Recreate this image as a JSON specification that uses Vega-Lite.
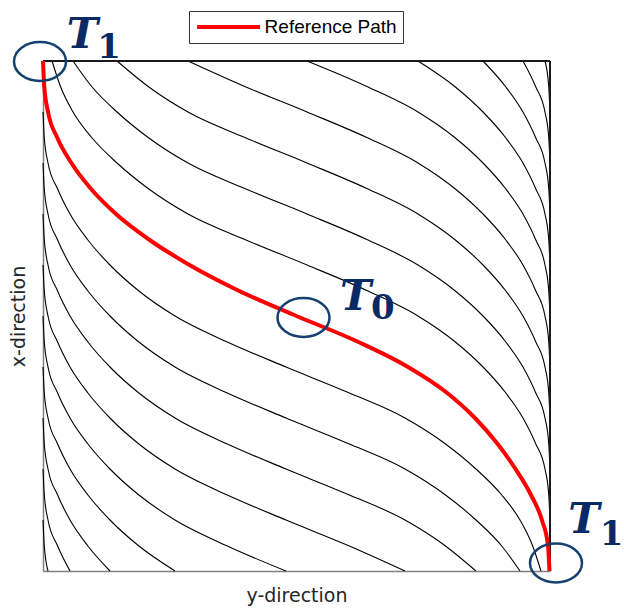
{
  "$schema": "https://vega.github.io/schema/vega-lite/v6.json",
  "width": 507,
  "height": 510,
  "autosize": {"type": "none"},
  "padding": {"left": 43, "top": 61, "right": 74, "bottom": 37},
  "background": "white",
  "config": {"view": {"stroke": null}},
  "datasets": {
    "passes": [
      {"curve": "above1", "u": 1.78, "v": 100}, {"curve": "above1", "u": 3.45, "v": 95}, {"curve": "above1", "u": 5.92, "v": 90}, {"curve": "above1", "u": 9.6, "v": 85}, {"curve": "above1", "u": 14.6, "v": 80}, {"curve": "above1", "u": 20.74, "v": 75}, {"curve": "above1", "u": 28.6, "v": 70}, {"curve": "above1", "u": 39.8, "v": 65}, {"curve": "above1", "u": 52.07, "v": 60}, {"curve": "above1", "u": 63.87, "v": 55}, {"curve": "above1", "u": 73.96, "v": 50}, {"curve": "above1", "u": 81.21, "v": 45}, {"curve": "above1", "u": 86.79, "v": 40}, {"curve": "above1", "u": 91.22, "v": 35}, {"curve": "above1", "u": 94.67, "v": 30}, {"curve": "above1", "u": 97.16, "v": 25}, {"curve": "above1", "u": 99.01, "v": 20}, {"curve": "above1", "u": 99.75, "v": 15}, {"curve": "above1", "u": 100, "v": 10},
      {"curve": "above2", "u": 5.92, "v": 100}, {"curve": "above2", "u": 9.6, "v": 95}, {"curve": "above2", "u": 14.6, "v": 90}, {"curve": "above2", "u": 20.74, "v": 85}, {"curve": "above2", "u": 28.6, "v": 80}, {"curve": "above2", "u": 39.8, "v": 75}, {"curve": "above2", "u": 52.07, "v": 70}, {"curve": "above2", "u": 63.87, "v": 65}, {"curve": "above2", "u": 73.96, "v": 60}, {"curve": "above2", "u": 81.21, "v": 55}, {"curve": "above2", "u": 86.79, "v": 50}, {"curve": "above2", "u": 91.22, "v": 45}, {"curve": "above2", "u": 94.67, "v": 40}, {"curve": "above2", "u": 97.16, "v": 35}, {"curve": "above2", "u": 99.01, "v": 30}, {"curve": "above2", "u": 99.75, "v": 25}, {"curve": "above2", "u": 100, "v": 20},
      {"curve": "above3", "u": 14.6, "v": 100}, {"curve": "above3", "u": 20.74, "v": 95}, {"curve": "above3", "u": 28.6, "v": 90}, {"curve": "above3", "u": 39.8, "v": 85}, {"curve": "above3", "u": 52.07, "v": 80}, {"curve": "above3", "u": 63.87, "v": 75}, {"curve": "above3", "u": 73.96, "v": 70}, {"curve": "above3", "u": 81.21, "v": 65}, {"curve": "above3", "u": 86.79, "v": 60}, {"curve": "above3", "u": 91.22, "v": 55}, {"curve": "above3", "u": 94.67, "v": 50}, {"curve": "above3", "u": 97.16, "v": 45}, {"curve": "above3", "u": 99.01, "v": 40}, {"curve": "above3", "u": 99.75, "v": 35}, {"curve": "above3", "u": 100, "v": 30},
      {"curve": "above4", "u": 28.6, "v": 100}, {"curve": "above4", "u": 39.8, "v": 95}, {"curve": "above4", "u": 52.07, "v": 90}, {"curve": "above4", "u": 63.87, "v": 85}, {"curve": "above4", "u": 73.96, "v": 80}, {"curve": "above4", "u": 81.21, "v": 75}, {"curve": "above4", "u": 86.79, "v": 70}, {"curve": "above4", "u": 91.22, "v": 65}, {"curve": "above4", "u": 94.67, "v": 60}, {"curve": "above4", "u": 97.16, "v": 55}, {"curve": "above4", "u": 99.01, "v": 50}, {"curve": "above4", "u": 99.75, "v": 45}, {"curve": "above4", "u": 100, "v": 40},
      {"curve": "above5", "u": 52.07, "v": 100}, {"curve": "above5", "u": 63.87, "v": 95}, {"curve": "above5", "u": 73.96, "v": 90}, {"curve": "above5", "u": 81.21, "v": 85}, {"curve": "above5", "u": 86.79, "v": 80}, {"curve": "above5", "u": 91.22, "v": 75}, {"curve": "above5", "u": 94.67, "v": 70}, {"curve": "above5", "u": 97.16, "v": 65}, {"curve": "above5", "u": 99.01, "v": 60}, {"curve": "above5", "u": 99.75, "v": 55}, {"curve": "above5", "u": 100, "v": 50},
      {"curve": "above6", "u": 73.96, "v": 100}, {"curve": "above6", "u": 81.21, "v": 95}, {"curve": "above6", "u": 86.79, "v": 90}, {"curve": "above6", "u": 91.22, "v": 85}, {"curve": "above6", "u": 94.67, "v": 80}, {"curve": "above6", "u": 97.16, "v": 75}, {"curve": "above6", "u": 99.01, "v": 70}, {"curve": "above6", "u": 99.75, "v": 65}, {"curve": "above6", "u": 100, "v": 60},
      {"curve": "above7", "u": 86.79, "v": 100}, {"curve": "above7", "u": 91.22, "v": 95}, {"curve": "above7", "u": 94.67, "v": 90}, {"curve": "above7", "u": 97.16, "v": 85}, {"curve": "above7", "u": 99.01, "v": 80}, {"curve": "above7", "u": 99.75, "v": 75}, {"curve": "above7", "u": 100, "v": 70},
      {"curve": "above8", "u": 94.67, "v": 100}, {"curve": "above8", "u": 97.16, "v": 95}, {"curve": "above8", "u": 99.01, "v": 90}, {"curve": "above8", "u": 99.75, "v": 85}, {"curve": "above8", "u": 100, "v": 80},
      {"curve": "above9", "u": 99.01, "v": 100}, {"curve": "above9", "u": 99.75, "v": 95}, {"curve": "above9", "u": 100, "v": 90},
      {"curve": "below1", "u": 0, "v": 90}, {"curve": "below1", "u": 0.25, "v": 85}, {"curve": "below1", "u": 0.99, "v": 80}, {"curve": "below1", "u": 2.84, "v": 75}, {"curve": "below1", "u": 5.33, "v": 70}, {"curve": "below1", "u": 8.78, "v": 65}, {"curve": "below1", "u": 13.21, "v": 60}, {"curve": "below1", "u": 18.79, "v": 55}, {"curve": "below1", "u": 26.04, "v": 50}, {"curve": "below1", "u": 36.13, "v": 45}, {"curve": "below1", "u": 47.93, "v": 40}, {"curve": "below1", "u": 60.2, "v": 35}, {"curve": "below1", "u": 71.4, "v": 30}, {"curve": "below1", "u": 79.26, "v": 25}, {"curve": "below1", "u": 85.4, "v": 20}, {"curve": "below1", "u": 90.4, "v": 15}, {"curve": "below1", "u": 94.08, "v": 10}, {"curve": "below1", "u": 96.55, "v": 5}, {"curve": "below1", "u": 98.22, "v": 0},
      {"curve": "below2", "u": 0, "v": 80}, {"curve": "below2", "u": 0.25, "v": 75}, {"curve": "below2", "u": 0.99, "v": 70}, {"curve": "below2", "u": 2.84, "v": 65}, {"curve": "below2", "u": 5.33, "v": 60}, {"curve": "below2", "u": 8.78, "v": 55}, {"curve": "below2", "u": 13.21, "v": 50}, {"curve": "below2", "u": 18.79, "v": 45}, {"curve": "below2", "u": 26.04, "v": 40}, {"curve": "below2", "u": 36.13, "v": 35}, {"curve": "below2", "u": 47.93, "v": 30}, {"curve": "below2", "u": 60.2, "v": 25}, {"curve": "below2", "u": 71.4, "v": 20}, {"curve": "below2", "u": 79.26, "v": 15}, {"curve": "below2", "u": 85.4, "v": 10}, {"curve": "below2", "u": 90.4, "v": 5}, {"curve": "below2", "u": 94.08, "v": 0},
      {"curve": "below3", "u": 0, "v": 70}, {"curve": "below3", "u": 0.25, "v": 65}, {"curve": "below3", "u": 0.99, "v": 60}, {"curve": "below3", "u": 2.84, "v": 55}, {"curve": "below3", "u": 5.33, "v": 50}, {"curve": "below3", "u": 8.78, "v": 45}, {"curve": "below3", "u": 13.21, "v": 40}, {"curve": "below3", "u": 18.79, "v": 35}, {"curve": "below3", "u": 26.04, "v": 30}, {"curve": "below3", "u": 36.13, "v": 25}, {"curve": "below3", "u": 47.93, "v": 20}, {"curve": "below3", "u": 60.2, "v": 15}, {"curve": "below3", "u": 71.4, "v": 10}, {"curve": "below3", "u": 79.26, "v": 5}, {"curve": "below3", "u": 85.4, "v": 0},
      {"curve": "below4", "u": 0, "v": 60}, {"curve": "below4", "u": 0.25, "v": 55}, {"curve": "below4", "u": 0.99, "v": 50}, {"curve": "below4", "u": 2.84, "v": 45}, {"curve": "below4", "u": 5.33, "v": 40}, {"curve": "below4", "u": 8.78, "v": 35}, {"curve": "below4", "u": 13.21, "v": 30}, {"curve": "below4", "u": 18.79, "v": 25}, {"curve": "below4", "u": 26.04, "v": 20}, {"curve": "below4", "u": 36.13, "v": 15}, {"curve": "below4", "u": 47.93, "v": 10}, {"curve": "below4", "u": 60.2, "v": 5}, {"curve": "below4", "u": 71.4, "v": 0},
      {"curve": "below5", "u": 0, "v": 50}, {"curve": "below5", "u": 0.25, "v": 45}, {"curve": "below5", "u": 0.99, "v": 40}, {"curve": "below5", "u": 2.84, "v": 35}, {"curve": "below5", "u": 5.33, "v": 30}, {"curve": "below5", "u": 8.78, "v": 25}, {"curve": "below5", "u": 13.21, "v": 20}, {"curve": "below5", "u": 18.79, "v": 15}, {"curve": "below5", "u": 26.04, "v": 10}, {"curve": "below5", "u": 36.13, "v": 5}, {"curve": "below5", "u": 47.93, "v": 0},
      {"curve": "below6", "u": 0, "v": 40}, {"curve": "below6", "u": 0.25, "v": 35}, {"curve": "below6", "u": 0.99, "v": 30}, {"curve": "below6", "u": 2.84, "v": 25}, {"curve": "below6", "u": 5.33, "v": 20}, {"curve": "below6", "u": 8.78, "v": 15}, {"curve": "below6", "u": 13.21, "v": 10}, {"curve": "below6", "u": 18.79, "v": 5}, {"curve": "below6", "u": 26.04, "v": 0},
      {"curve": "below7", "u": 0, "v": 30}, {"curve": "below7", "u": 0.25, "v": 25}, {"curve": "below7", "u": 0.99, "v": 20}, {"curve": "below7", "u": 2.84, "v": 15}, {"curve": "below7", "u": 5.33, "v": 10}, {"curve": "below7", "u": 8.78, "v": 5}, {"curve": "below7", "u": 13.21, "v": 0},
      {"curve": "below8", "u": 0, "v": 20}, {"curve": "below8", "u": 0.25, "v": 15}, {"curve": "below8", "u": 0.99, "v": 10}, {"curve": "below8", "u": 2.84, "v": 5}, {"curve": "below8", "u": 5.33, "v": 0},
      {"curve": "below9", "u": 0, "v": 10}, {"curve": "below9", "u": 0.25, "v": 5}, {"curve": "below9", "u": 0.99, "v": 0}
    ],
    "reference": [
      {"series": "Reference Path", "u": 0, "v": 100}, {"series": "Reference Path", "u": 0.25, "v": 95}, {"series": "Reference Path", "u": 1.0, "v": 90}, {"series": "Reference Path", "u": 2.8, "v": 85}, {"series": "Reference Path", "u": 5.6, "v": 80}, {"series": "Reference Path", "u": 9.4, "v": 75}, {"series": "Reference Path", "u": 14.4, "v": 70}, {"series": "Reference Path", "u": 20.9, "v": 65}, {"series": "Reference Path", "u": 28.9, "v": 60}, {"series": "Reference Path", "u": 38.5, "v": 55}, {"series": "Reference Path", "u": 50.0, "v": 50}, {"series": "Reference Path", "u": 62.0, "v": 45}, {"series": "Reference Path", "u": 72.0, "v": 40}, {"series": "Reference Path", "u": 79.6, "v": 35}, {"series": "Reference Path", "u": 85.2, "v": 30}, {"series": "Reference Path", "u": 89.6, "v": 25}, {"series": "Reference Path", "u": 93.2, "v": 20}, {"series": "Reference Path", "u": 96.2, "v": 15}, {"series": "Reference Path", "u": 98.4, "v": 10}, {"series": "Reference Path", "u": 99.6, "v": 5}, {"series": "Reference Path", "u": 99.9, "v": 0}
    ],
    "frame": [
      {"u": 0, "v": 100, "u2": 100, "v2": 100},
      {"u": 100, "v": 0, "u2": 100, "v2": 100}
    ],
    "waypoints": [
      {"name": "T1 start", "u": -0.59, "v": 99.9},
      {"name": "T0", "u": 51.38, "v": 49.7},
      {"name": "T1 end", "u": 101.18, "v": 1.57}
    ],
    "letters": [
      {"u": 4.7, "v": 102.55, "txt": "T"},
      {"u": 58.58, "v": 51.18, "txt": "T"},
      {"u": 103.6, "v": 7.45, "txt": "T"}
    ],
    "subscripts": [
      {"u": 10.7, "v": 100.6, "txt": "1"},
      {"u": 64.7, "v": 49.41, "txt": "0"},
      {"u": 109.8, "v": 5.1, "txt": "1"}
    ]
  },
  "encoding": {
    "x": {
      "field": "u", "type": "quantitative",
      "scale": {"domain": [0, 100], "nice": false, "zero": false},
      "axis": {
        "title": "y-direction", "ticks": false, "labels": false, "grid": false,
        "domainColor": "#808080", "domainWidth": 1.5,
        "titleFont": "DejaVu Sans", "titleFontSize": 19, "titleFontWeight": "normal",
        "titleColor": "#262626", "titlePadding": 15.5
      }
    },
    "y": {
      "field": "v", "type": "quantitative",
      "scale": {"domain": [0, 100], "nice": false, "zero": false},
      "axis": {
        "title": "x-direction", "ticks": false, "labels": false, "grid": false,
        "domainColor": "#808080", "domainWidth": 1.5,
        "titleFont": "DejaVu Sans", "titleFontSize": 19, "titleFontWeight": "normal",
        "titleColor": "#262626", "titlePadding": 14.5
      }
    }
  },
  "layer": [
    {
      "data": {"name": "passes"},
      "mark": {"type": "line", "color": "#000000", "strokeWidth": 1.1, "interpolate": "monotone"},
      "encoding": {"detail": {"field": "curve", "type": "nominal"}}
    },
    {
      "data": {"name": "frame"},
      "mark": {"type": "rule", "color": "#1a1a1a", "strokeWidth": 2},
      "encoding": {
        "x2": {"field": "u2"},
        "y2": {"field": "v2"}
      }
    },
    {
      "data": {"name": "reference"},
      "mark": {"type": "line", "strokeWidth": 4, "interpolate": "monotone"},
      "encoding": {
        "color": {
          "field": "series", "type": "nominal",
          "scale": {"domain": ["Reference Path"], "range": ["#ff0000"]},
          "legend": {
            "orient": "none", "legendX": 146, "legendY": -50, "title": null,
            "symbolType": "M -4 0 L 4 0", "symbolSize": 248, "symbolStrokeWidth": 4,
            "symbolOffset": 23.6,
            "labelFont": "Liberation Sans", "labelFontSize": 19, "labelColor": "#000000",
            "labelOffset": 26, "padding": 6, "strokeColor": "#333333", "fillColor": "#ffffff"
          }
        }
      }
    },
    {
      "data": {"name": "waypoints"},
      "mark": {
        "type": "point",
        "shape": "M -1 0 A 1 0.75 0 1 1 1 0 A 1 0.75 0 1 1 -1 0 Z",
        "size": 2704, "filled": false, "stroke": "#16406e", "strokeWidth": 2.5, "opacity": 1
      }
    },
    {
      "data": {"name": "letters"},
      "mark": {
        "type": "text", "font": "DejaVu Serif", "fontSize": 42, "fontWeight": "bold",
        "fontStyle": "italic", "color": "#0a2a66", "align": "left", "baseline": "alphabetic"
      },
      "encoding": {"text": {"field": "txt"}}
    },
    {
      "data": {"name": "subscripts"},
      "mark": {
        "type": "text", "font": "DejaVu Serif", "fontSize": 34, "fontWeight": "bold",
        "color": "#0a2a66", "align": "left", "baseline": "alphabetic"
      },
      "encoding": {"text": {"field": "txt"}}
    }
  ]
}
